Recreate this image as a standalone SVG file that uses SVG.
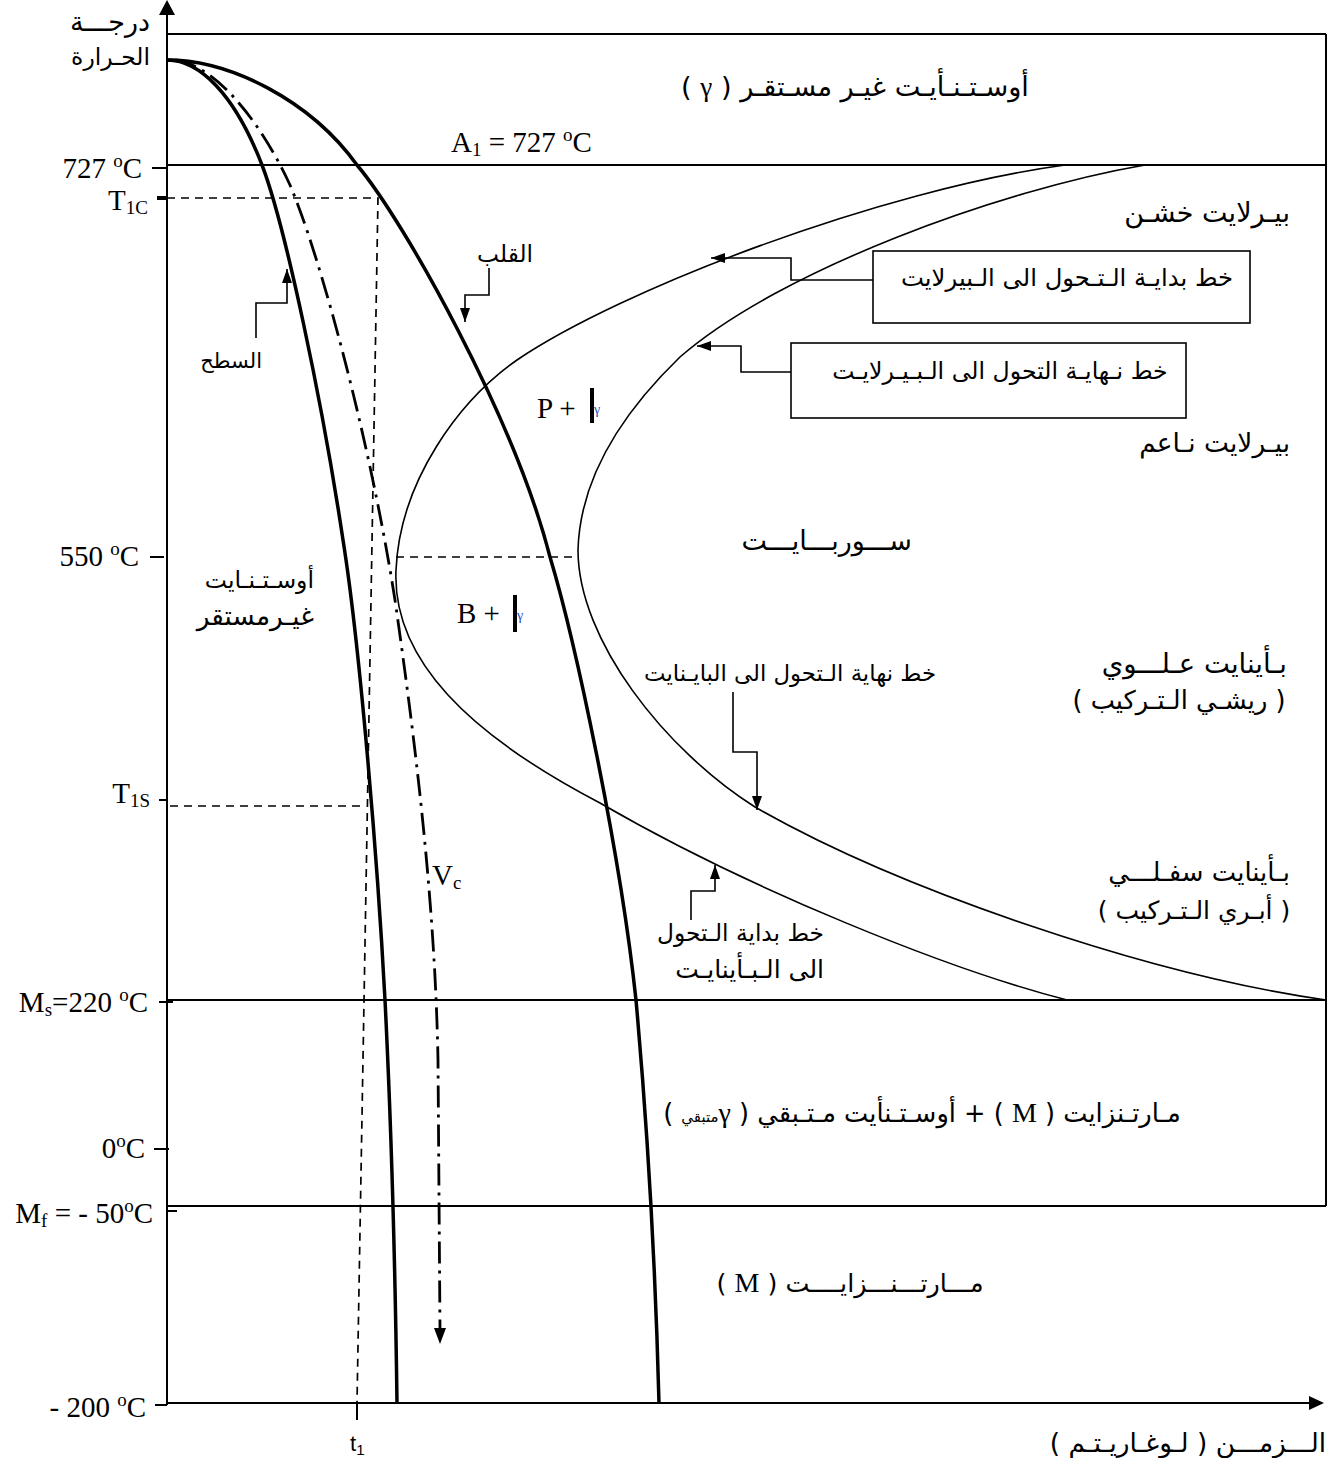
<svg xmlns="http://www.w3.org/2000/svg" width="1333" height="1458" viewBox="0 0 1333 1458">
<style>
.thick{stroke:#000;stroke-width:3.5;fill:none}
.thin{stroke:#000;stroke-width:1.6;fill:none}
.ln{stroke:#000;stroke-width:2;fill:none}
.dash{stroke:#000;stroke-width:1.7;stroke-dasharray:8 6;fill:none}
.vc{stroke:#000;stroke-width:2.8;fill:none;stroke-dasharray:22 7 3 7}
.lead{stroke:#000;stroke-width:1.6;fill:none;marker-end:url(#arr)}
.ar{font-family:"DejaVu Sans",sans-serif;fill:#000}
.lat{font-family:"Liberation Serif",serif;font-size:29px;fill:#000}
.sub{font-size:19px}
</style>
<defs>
<marker id="arr" viewBox="0 0 14 10" refX="14" refY="5" markerWidth="14" markerHeight="10" markerUnits="userSpaceOnUse" orient="auto">
<path d="M0,0 L14,5 L0,10 z" fill="#000"/>
</marker>
</defs>
<rect width="1333" height="1458" fill="#fff"/>

<g id="axes">
<line class="ln" x1="167" y1="1405" x2="167" y2="12"/>
<path d="M167,0 L159,15 L175,15 z" fill="#000"/>
<line class="ln" x1="167" y1="1403" x2="1310" y2="1403"/>
<path d="M1324,1403 L1309,1396 L1309,1410 z" fill="#000"/>
<line class="ln" x1="167" y1="34" x2="1326" y2="34"/>
<line class="ln" x1="1326" y1="34" x2="1326" y2="1206"/>
<line class="ln" x1="167" y1="165" x2="1326" y2="165"/>
<line class="ln" x1="167" y1="1000" x2="1326" y2="1000"/>
<line class="ln" x1="167" y1="1206" x2="1326" y2="1206"/>
<line class="ln" x1="152" y1="168" x2="167" y2="168"/>
<line x1="157" y1="198" x2="166" y2="198" stroke="#000" stroke-width="4"/>
<line class="ln" x1="150" y1="557" x2="164" y2="557"/>
<line class="ln" x1="159" y1="800" x2="167" y2="800"/>
<line class="ln" x1="159" y1="1002" x2="173" y2="1002"/>
<line class="ln" x1="154" y1="1149" x2="169" y2="1149"/>
<line class="ln" x1="167" y1="1211" x2="177" y2="1211"/>
<line class="ln" x1="155" y1="1405" x2="167" y2="1405"/>
<line class="ln" x1="357" y1="1403" x2="357" y2="1420"/>
</g>

<g id="guides">
<polyline class="dash" points="167,198 378,198 357,1403"/>
<line class="dash" x1="170" y1="806" x2="366" y2="806"/>
<line class="dash" x1="396" y1="557" x2="578" y2="557"/>
</g>

<g id="surface-curve">
<path class="thick" d="M167,60 C200,60 235,95 262,165 C285,225 322,400 343,540 C359,640 377,850 385,1000 C390,1100 395,1250 397,1403"/>
</g>
<g id="core-curve">
<path class="thick" d="M167,60 C230,60 310,100 357,165 C405,222 515,420 550,557 C575,640 620,850 636,1000 C645,1100 655,1250 659,1403"/>
</g>
<g id="vc-curve">
<path class="vc" d="M175,60 C215,65 260,120 290,185 C320,255 370,440 395,600 C415,740 435,900 438,1060 L440,1330"/>
<path d="M440,1344 L434,1328 L446,1328 z" fill="#000"/>
</g>
<g id="start-curve">
<path class="thin" d="M1065,165 C880,190 620,290 517,360 C460,400 400,480 396,570 C392,660 470,735 600,803 C750,890 950,970 1067,1000"/>
</g>
<g id="finish-curve">
<path class="thin" d="M1145,165 C1000,190 780,270 680,357 C620,415 580,480 578,550 C578,640 665,750 755,807 C900,890 1150,975 1326,1000"/>
</g>

<g id="connectors">
<polyline class="lead" points="873,280 791,280 791,258 711,258"/>
<polyline class="lead" points="791,372 741,372 741,346 697,346"/>
<polyline class="lead" points="489,268 489,295 465,295 465,322"/>
<polyline class="lead" points="256,338 256,303 287,303 287,269"/>
<polyline class="lead" points="733,692 733,752 757,752 757,810"/>
<polyline class="lead" points="691,920 691,891 715,891 715,865"/>
</g>

<g id="box-pearlite-start">
<rect x="873" y="251" width="377" height="72" fill="#fff" stroke="#000" stroke-width="1.6"/>
<text class="ar" x="1067" y="286" text-anchor="middle" font-size="24.3">خط بدايـة الـتـحول الى الـبيرلايت</text>
</g>
<g id="box-pearlite-finish">
<rect x="791" y="343" width="395" height="75" fill="#fff" stroke="#000" stroke-width="1.6"/>
<text class="ar" x="1000" y="379" text-anchor="middle" font-size="23.6">خط نـهايـة التحول الى الـبـيـرلايـت</text>
</g>

<g id="axis-labels">
<text class="ar" x="150" y="31" text-anchor="end" font-size="27">درجـــة</text>
<text class="ar" x="150" y="65" text-anchor="end" font-size="23.5">الحـرارة</text>
<text class="lat" x="142" y="178" text-anchor="end">727 <tspan class="sub" dy="-11">o</tspan><tspan dy="11">C</tspan></text>
<text class="lat" x="148" y="210" text-anchor="end">T<tspan class="sub" dy="4">1C</tspan></text>
<text class="lat" x="139" y="566" text-anchor="end">550 <tspan class="sub" dy="-11">o</tspan><tspan dy="11">C</tspan></text>
<text class="lat" x="150" y="803" text-anchor="end">T<tspan class="sub" dy="4">1S</tspan></text>
<text class="lat" x="148" y="1012" text-anchor="end">M<tspan class="sub" dy="4">s</tspan><tspan dy="-4">=220 </tspan><tspan class="sub" dy="-11">o</tspan><tspan dy="11">C</tspan></text>
<text class="lat" x="145" y="1158" text-anchor="end">0<tspan class="sub" dy="-11">o</tspan><tspan dy="11">C</tspan></text>
<text class="lat" x="153" y="1223" text-anchor="end">M<tspan class="sub" dy="4">f</tspan><tspan dy="-4"> = - 50</tspan><tspan class="sub" dy="-11">o</tspan><tspan dy="11">C</tspan></text>
<text class="lat" x="146" y="1417" text-anchor="end">- 200 <tspan class="sub" dy="-11">o</tspan><tspan dy="11">C</tspan></text>
<text x="350" y="1451" font-family="Liberation Sans, sans-serif" font-size="22">t<tspan font-size="15" dy="4">1</tspan></text>
<text class="ar" x="1188" y="1452" text-anchor="middle" direction="rtl" font-size="26.4">الـــزمـــن ( لـوغـاريـتـم )</text>
</g>

<g id="region-labels">
<text class="ar" x="855" y="96" text-anchor="middle" direction="rtl" font-size="27.2">أوسـتـنـأيـت غيـر مسـتقـر ( <tspan font-family="Liberation Serif">γ</tspan> )</text>
<text class="lat" x="451" y="152">A<tspan class="sub" dy="4">1</tspan><tspan dy="-4"> = 727 </tspan><tspan class="sub" dy="-11">o</tspan><tspan dy="11">C</tspan></text>
<text class="ar" x="1290" y="222" text-anchor="end" font-size="27">بيـرلايت خشـن</text>
<text class="ar" x="1290" y="452" text-anchor="end" font-size="26.4">بيـرلايت نـاعم</text>
<text class="ar" x="533" y="262" text-anchor="end" font-size="23.3">القلب</text>
<text class="ar" x="262" y="368" text-anchor="end" font-size="21">السطح</text>
<text class="ar" x="314" y="588" text-anchor="end" font-size="23.5">أوسـتـنـايت</text>
<text class="ar" x="314" y="625" text-anchor="end" font-size="26.3">غيـرمستقر</text>
<text class="lat" x="537" y="418">P +</text>
<rect x="590" y="388" width="4" height="35" fill="#000"/>
<text x="594" y="414" font-family="Liberation Serif" font-size="14" fill="#2050c0">γ</text>
<text class="lat" x="457" y="623">B +</text>
<rect x="513" y="595" width="4" height="37" fill="#000"/>
<text x="517" y="620" font-family="Liberation Serif" font-size="14" fill="#2050c0">γ</text>
<text class="ar" x="912" y="550" text-anchor="end" font-size="27">ســـوربـــايـــت</text>
<text class="ar" x="936" y="681" text-anchor="end" font-size="22.8">خط نهاية الـتحول الى البايـنايت</text>
<text class="ar" x="1287" y="673" text-anchor="end" font-size="27.5">بـأينايت عـلـــوي</text>
<text class="ar" x="1179" y="709" text-anchor="middle" direction="rtl" font-size="25.7">( ريشـي الـتـركيب )</text>
<text class="lat" x="432" y="885">V<tspan class="sub" dy="4">c</tspan></text>
<text class="ar" x="1290" y="881" text-anchor="end" font-size="25.9">بـأينايت سفـلـــي</text>
<text class="ar" x="1194" y="919" text-anchor="middle" direction="rtl" font-size="25">( أبـري الـتـركيب )</text>
<text class="ar" x="824" y="941" text-anchor="end" font-size="23.3">خط بداية الـتحول</text>
<text class="ar" x="824" y="978" text-anchor="end" font-size="25">الى الـبـأينايـت</text>
<text class="ar" x="922" y="1122" text-anchor="middle" direction="rtl" font-size="25.7">مـارتـنزايت ( <tspan font-family="Liberation Serif" font-size="28">M</tspan> ) + أوسـتـنأيت مـتـبقي ( <tspan font-family="Liberation Serif" font-size="28">γ</tspan><tspan font-size="15">متبقي</tspan> )</text>
<text class="ar" x="850" y="1292" text-anchor="middle" direction="rtl" font-size="25.4">مـــارتـــنـــزايــــت ( <tspan font-family="Liberation Serif" font-size="28">M</tspan> )</text>
</g>
</svg>
